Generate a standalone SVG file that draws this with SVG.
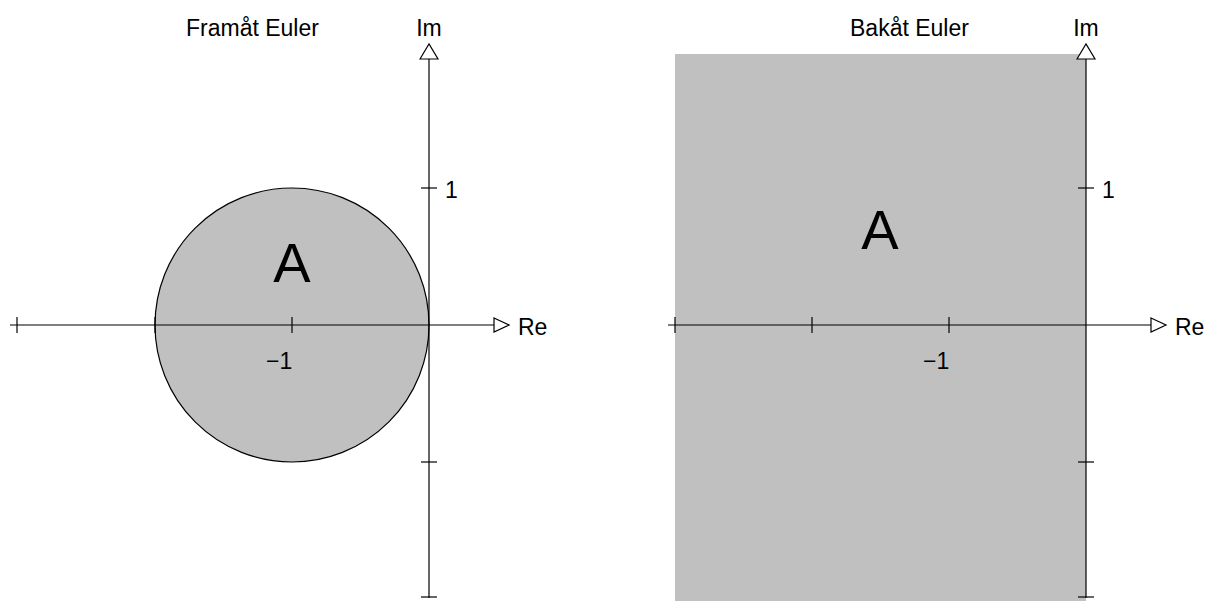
<svg xmlns="http://www.w3.org/2000/svg" width="1208" height="601" viewBox="0 0 1208 601">
<defs>
<style>
.ax{stroke:#000;stroke-width:1.2;fill:none}
.tk{stroke:#000;stroke-width:1.2}
.arr{fill:#fff;stroke:#000;stroke-width:1.2}
.t{font-family:"Liberation Sans",Arial,sans-serif;font-size:23px;fill:#000}
.big{font-family:"Liberation Sans",Arial,sans-serif;font-size:56px;fill:#000}
.reg{fill:#c0c0c0;stroke:#000;stroke-width:1.2}
</style>
</defs>
<rect width="1208" height="601" fill="#fff"/>
<g id="left-panel">
<g id="region-left"><circle class="reg" cx="292" cy="325" r="137"/></g>
<g id="axes-left">
<line class="ax" x1="10" y1="325" x2="494" y2="325"/>
<line class="ax" x1="429" y1="598" x2="429" y2="59"/>
<polygon class="arr" points="494,318 509,325 494,332"/>
<polygon class="arr" points="420,59 429,44 438,59"/>
<line class="tk" x1="17" y1="317" x2="17" y2="333"/>
<line class="tk" x1="155" y1="317" x2="155" y2="333"/>
<line class="tk" x1="292" y1="317" x2="292" y2="333"/>
<line class="tk" x1="421" y1="188" x2="437" y2="188"/>
<line class="tk" x1="421" y1="462" x2="437" y2="462"/>
<line class="tk" x1="421" y1="597" x2="437" y2="597"/>
</g>
<text class="t" x="186" y="36">Framåt Euler</text>
<text class="t" x="429" y="36" text-anchor="middle">Im</text>
<text class="t" x="518" y="335">Re</text>
<text class="t" x="445" y="198">1</text>
<text class="t" x="266" y="369">−1</text>
<text class="big" x="292" y="282" text-anchor="middle">A</text>
</g>
<g id="right-panel">
<g id="region-right"><rect x="675" y="54" width="411" height="547" fill="#c0c0c0"/></g>
<g id="axes-right">
<line class="ax" x1="668" y1="325" x2="1151" y2="325"/>
<line class="ax" x1="1086" y1="598" x2="1086" y2="59"/>
<polygon class="arr" points="1151,318 1166,325 1151,332"/>
<polygon class="arr" points="1077,59 1086,44 1095,59"/>
<line class="tk" x1="675" y1="317" x2="675" y2="333"/>
<line class="tk" x1="812" y1="317" x2="812" y2="333"/>
<line class="tk" x1="949" y1="317" x2="949" y2="333"/>
<line class="tk" x1="1078" y1="188" x2="1094" y2="188"/>
<line class="tk" x1="1078" y1="462" x2="1094" y2="462"/>
<line class="tk" x1="1078" y1="597" x2="1094" y2="597"/>
</g>
<text class="t" x="850" y="36">Bakåt Euler</text>
<text class="t" x="1086" y="36" text-anchor="middle">Im</text>
<text class="t" x="1175" y="335">Re</text>
<text class="t" x="1102" y="198">1</text>
<text class="t" x="923" y="369">−1</text>
<text class="big" x="880" y="249" text-anchor="middle">A</text>
</g>
</svg>
